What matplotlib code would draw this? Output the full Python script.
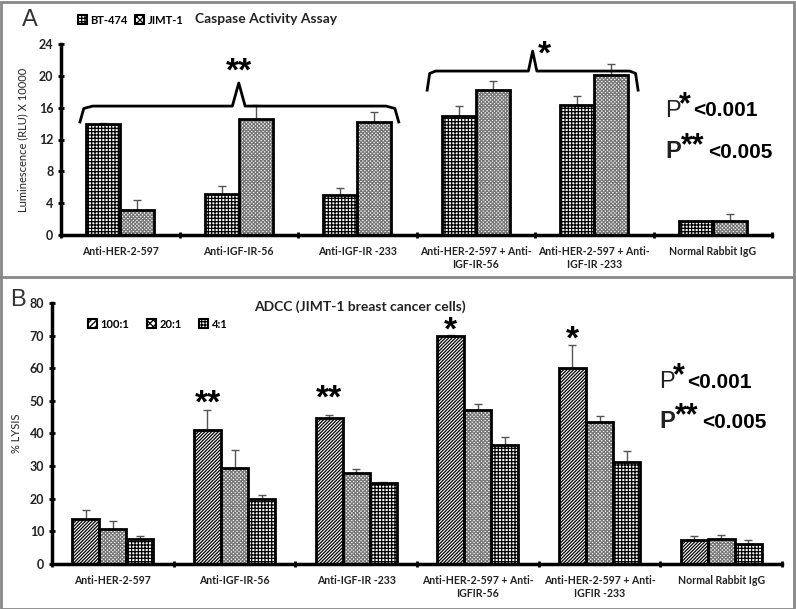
import matplotlib
matplotlib.use("Agg")
import matplotlib.pyplot as plt
import numpy as np
from matplotlib.patches import Patch, Rectangle
from matplotlib.lines import Line2D

# ---- data ----
labels_a = ['Anti-HER-2-597', 'Anti-IGF-IR-56', 'Anti-IGF-IR -233',
            'Anti-HER-2-597 + Anti-\nIGF-IR-56', 'Anti-HER-2-597 + Anti-\nIGF-IR -233',
            'Normal Rabbit IgG']
bt474 = [14.0, 5.2, 5.0, 15.0, 16.3, 1.8]
bt474_err = [0.1, 0.9, 0.9, 1.2, 1.2, 0.0]
jimt1 = [3.2, 14.6, 14.2, 18.2, 20.1, 1.7]
jimt1_err = [1.2, 1.7, 1.2, 1.2, 1.4, 1.0]

labels_b = ['Anti-HER-2-597', 'Anti-IGF-IR-56', 'Anti-IGF-IR -233',
            'Anti-HER-2-597 + Anti-\nIGFIR-56', 'Anti-HER-2-597 + Anti-\nIGFIR -233',
            'Normal Rabbit IgG']
r100 = [13.7, 41.1, 44.9, 69.9, 60.0, 7.4]
r100_err = [2.9, 6.1, 0.8, 0.3, 7.0, 1.2]
r20 = [10.8, 29.4, 27.8, 47.2, 43.6, 7.7]
r20_err = [2.4, 5.4, 1.2, 1.8, 1.9, 1.1]
r4 = [7.7, 19.9, 24.8, 36.5, 31.4, 6.2]
r4_err = [1.0, 1.1, 0.3, 2.4, 3.1, 1.1]

W, H = 796, 609
LABEL_FONT = ['Lato', 'DejaVu Sans']
ARIAL = ['Liberation Sans', 'DejaVu Sans']

plt.rcParams['hatch.linewidth'] = 0.9

fig = plt.figure(figsize=(W / 100, H / 100), dpi=100)

H_CHECK = '+++++'
H_GRAY = 'xxxxxxxxx'
H_DIAG = '//////////'


def px(x, y):
    return x / W, 1 - y / H


def hatched_bars(ax, x, vals, width, hatch, hcolor):
    ax.bar(x, vals, width, color='white', edgecolor=hcolor, hatch=hatch, linewidth=0, zorder=2)
    ax.bar(x, vals, width, fill=False, edgecolor='black', linewidth=2, zorder=3)


def style_axis(ax, labels, yticks):
    for s in ['top', 'right']:
        ax.spines[s].set_visible(False)
    for s in ['left', 'bottom']:
        ax.spines[s].set_linewidth(2.5)
    ax.set_xlim(-0.5, 5.5)
    ax.set_xticks(np.arange(6))
    ax.set_xticklabels(labels, fontfamily=LABEL_FONT, fontweight='bold', fontsize=7.6, color='#222')
    ax.tick_params(axis='x', which='major', length=0, pad=8)
    ax.set_xticks(np.arange(7) - 0.5, minor=True)
    ax.tick_params(axis='x', which='minor', length=4, width=2, direction='inout')
    ax.set_yticks(yticks)
    ax.set_yticklabels([str(t) for t in yticks], fontfamily=LABEL_FONT, fontweight='bold', fontsize=9, color='#222')
    ax.tick_params(axis='y', length=4, width=2, direction='inout')


def bracket(ax, x0, x1, xc, yh, ye, yc):
    d = 0.04 * (x1 - x0)
    xs = [x0, x0 + d * 0.3, x0 + d, xc - d * 0.5, xc, xc + d * 0.5, x1 - d, x1 - d * 0.3, x1]
    ys = [ye, yh - 0.3, yh, yh, yc, yh, yh, yh - 0.3, ye]
    ax.add_line(Line2D(xs, ys, color='black', lw=2, clip_on=False, zorder=4))


def pvalue(x0, y0, bold_p, stars, txt, star_w):
    p_w = 16 if bold_p else 14
    fig.text(*px(x0, y0), 'P', fontsize=17, fontfamily=ARIAL, va='center', ha='left', color='#222',
             fontweight='bold' if bold_p else 'normal')
    fig.text(*px(x0 + p_w, y0 - 6), stars, fontsize=22, fontweight='bold', fontfamily=ARIAL, va='center', ha='left')
    fig.text(*px(x0 + p_w + 2 + star_w, y0), txt, fontsize=15, fontweight='bold', fontfamily=ARIAL,
             va='center', ha='left')


# ---------------- Panel A ----------------
axA = fig.add_axes([61 / W, 1 - 235 / H, (772 - 61) / W, (235 - 44) / H])
x = np.arange(6)
wa = 0.286
hatched_bars(axA, x - wa / 2, bt474, wa, H_CHECK, 'black')
hatched_bars(axA, x + wa / 2, jimt1, wa, H_GRAY, '#777')
axA.errorbar(x - wa / 2, bt474, yerr=[np.zeros(6), bt474_err], fmt='none', ecolor='#555', elinewidth=1, capsize=3, zorder=1)
axA.errorbar(x + wa / 2, jimt1, yerr=[np.zeros(6), jimt1_err], fmt='none', ecolor='#555', elinewidth=1, capsize=3, zorder=1)
axA.set_ylim(0, 24)
style_axis(axA, labels_a, [0, 4, 8, 12, 16, 20, 24])
axA.set_ylabel('Luminescence (RLU) X 10000', fontfamily=LABEL_FONT, fontsize=8, color='#222')
axA.yaxis.set_label_coords((28 - 61) / (772 - 61), 0.5)

bracket(axA, -0.34, 2.35, 1.0, 16.2, 14.2, 19.1)
bracket(axA, 2.59, 4.37, 3.48, 20.6, 18.2, 23.1)
axA.text(1.0, 20.5, '**', ha='center', va='center', fontsize=24, fontweight='bold', fontfamily=ARIAL)
axA.text(3.58, 22.6, '*', ha='center', va='center', fontsize=24, fontweight='bold', fontfamily=ARIAL)

fig.text(*px(30, 20), 'A', fontsize=17, fontfamily=ARIAL, color='#333', ha='center', va='center')
fig.text(*px(266, 19), 'Caspase Activity Assay', fontsize=10, fontweight='bold', fontfamily=LABEL_FONT,
         ha='center', va='center', color='#222')
hA = [Patch(facecolor='white', edgecolor='black', hatch='+++++', lw=1.5),
      Patch(facecolor='white', edgecolor='black', hatch='xxxxx', lw=1.5)]
fig.legend(hA, ['BT-474', 'JIMT-1'], loc='center left', bbox_to_anchor=px(68, 20), ncol=2, frameon=False,
           handlelength=0.8, handleheight=0.8, handletextpad=0.3, columnspacing=0.7,
           prop={'family': LABEL_FONT, 'weight': 'bold', 'size': 8})

pvalue(665, 111, False, '*', '<0.001', 12)
pvalue(665, 152, True, '**', '<0.005', 25)

# ---------------- Panel B ----------------
axB = fig.add_axes([52 / W, 1 - 564 / H, (782 - 52) / W, (564 - 303) / H])
wb = 0.222
hatched_bars(axB, x - wb, r100, wb, H_DIAG, 'black')
hatched_bars(axB, x, r20, wb, H_GRAY, '#777')
hatched_bars(axB, x + wb, r4, wb, H_CHECK, 'black')
for off, v, e in [(-wb, r100, r100_err), (0, r20, r20_err), (wb, r4, r4_err)]:
    axB.errorbar(x + off, v, yerr=[np.zeros(6), e], fmt='none', ecolor='#555', elinewidth=1, capsize=3, zorder=1)
axB.set_ylim(0, 80)
style_axis(axB, labels_b, list(range(0, 90, 10)))
axB.set_ylabel('% LYSIS', fontfamily=LABEL_FONT, fontsize=8, color='#222')
axB.yaxis.set_label_coords((22 - 52) / (782 - 52), 0.5)

axB.text(1 - wb, 49, '**', ha='center', va='center', fontsize=24, fontweight='bold', fontfamily=ARIAL)
axB.text(2 - wb, 50.5, '**', ha='center', va='center', fontsize=24, fontweight='bold', fontfamily=ARIAL)
axB.text(3 - wb, 71.5, '*', ha='center', va='center', fontsize=24, fontweight='bold', fontfamily=ARIAL)
axB.text(4 - wb, 68.5, '*', ha='center', va='center', fontsize=24, fontweight='bold', fontfamily=ARIAL)

fig.text(*px(18, 300), 'B', fontsize=17, fontfamily=ARIAL, color='#333', ha='center', va='center')
fig.text(*px(360, 307), 'ADCC (JIMT-1 breast cancer cells)', fontsize=10, fontweight='bold',
         fontfamily=LABEL_FONT, ha='center', va='center', color='#222')
hB = [Patch(facecolor='white', edgecolor='black', hatch='//////', lw=1.5),
      Patch(facecolor='white', edgecolor='black', hatch='xxxxx', lw=1.5),
      Patch(facecolor='white', edgecolor='black', hatch='+++++', lw=1.5)]
fig.legend(hB, ['100:1', '20:1', '4:1'], loc='center left', bbox_to_anchor=px(78, 324), ncol=3, frameon=False,
           handlelength=0.8, handleheight=0.8, handletextpad=0.3, columnspacing=1.6,
           prop={'family': LABEL_FONT, 'weight': 'bold', 'size': 8})

pvalue(659, 382, False, '*', '<0.001', 12)
pvalue(659, 422, True, '**', '<0.005', 25)

# frame lines
fig.add_artist(Rectangle((0.5 / W, 0.5 / H), (W - 3) / W, (H - 2) / H, transform=fig.transFigure,
                         fill=False, edgecolor='#888', lw=2))
fig.add_artist(Line2D([0, 1 - 3 / W], [1 - 277 / H] * 2, transform=fig.transFigure, color='#888', lw=2))

fig.savefig('out.png', dpi=100)
